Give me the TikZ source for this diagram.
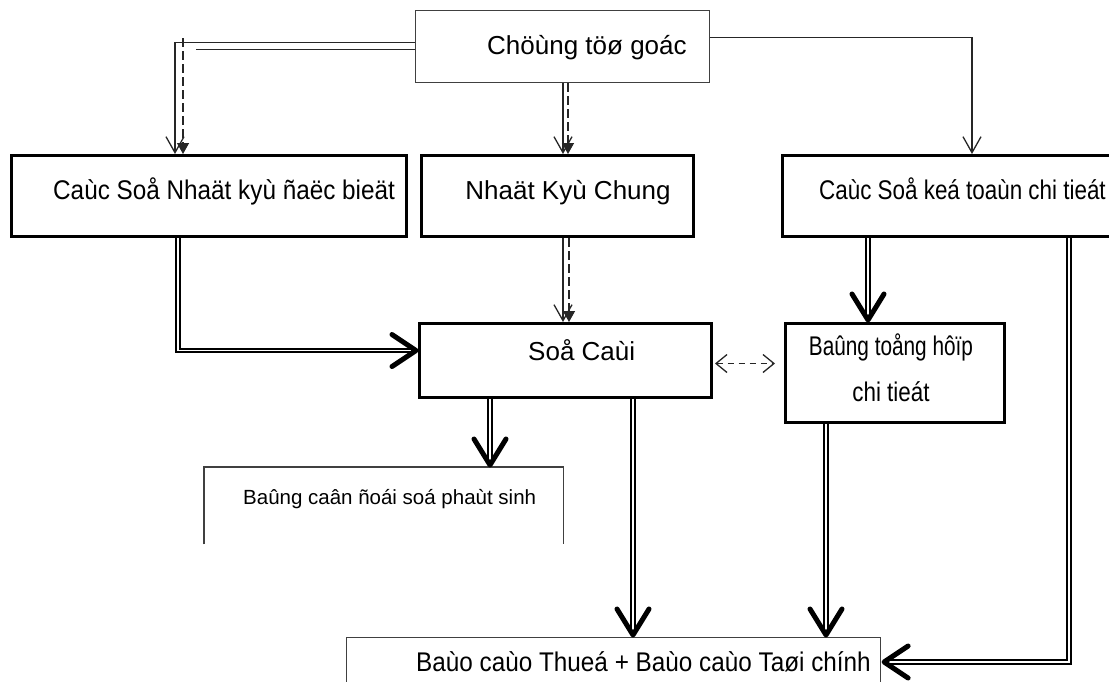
\documentclass[tikz,border=0pt]{standalone}
\usepackage{fontspec}
\setmainfont{Liberation Sans}
\newfontfamily\narrowf{Liberation Sans}[FakeStretch=0.83]
\newfontfamily\narrowg{Liberation Sans}[FakeStretch=0.9]
\newfontfamily\narrowh{Liberation Sans}[FakeStretch=0.77]
\usetikzlibrary{arrows.meta}
\begin{document}
\begin{tikzpicture}[x=1pt,y=-1pt,
  thinbox/.style={draw=black!75, line width=1.1pt, inner sep=0pt, anchor=north west},
  thickbox/.style={draw=black, line width=3pt, inner sep=0pt, anchor=north west},
  lbl/.style={inner sep=0pt, anchor=base west, font=\fontsize{26}{30}\selectfont},
  nlbl/.style={inner sep=0pt, anchor=base west, font=\narrowf\fontsize{27}{30}\selectfont},
  glbl/.style={inner sep=0pt, anchor=base west, font=\narrowg\fontsize{27}{30}\selectfont},
  thinline/.style={draw=black!85, line width=1.3pt},
  vtip/.style={-{Straight Barb[length=16pt,width=18pt,line width=1.3pt]}},
  ftip/.style={-{Triangle[length=11pt,width=12pt]}},
  dashln/.style={line width=1.3pt, dash pattern=on 9pt off 4pt},
  dbl/.style={draw=black, line width=1.8pt, double=white, double distance=1.8pt},
  chevron/.style={draw=black, line width=5pt, line cap=round, line join=round}
]
\path[use as bounding box] (0,0) rectangle (1109,681);
\clip (0,0) rectangle (1109,681);

% boxes
\node[thinbox, minimum width=294pt, minimum height=72pt] (top) at (415,10) {};
\node[thickbox, minimum width=395pt, minimum height=81pt] (b2) at (10,154) {};
\node[thickbox, minimum width=272pt, minimum height=81pt] (b3) at (420,154) {};
\node[thickbox, minimum width=400pt, minimum height=81pt] (b4) at (781,154) {};
\node[thickbox, minimum width=292pt, minimum height=74pt] (sc) at (418,322) {};
\node[thickbox, minimum width=219pt, minimum height=99pt] (bt) at (784,322) {};
\node[inner sep=0pt, anchor=north west, minimum width=359pt, minimum height=77pt] (bc) at (204,467) {};
\draw[draw=black!75, line width=1.1pt] (bc.south west) -- (bc.north west) -- (bc.north east) -- (bc.south east);
\node[thinbox, minimum width=534pt, minimum height=80pt] (bb) at (346,637) {};

% labels
\node[lbl] (topT) at (487,54) {Chöùng töø goác};
\node[glbl] (b2T) at (53,199) {Caùc Soå Nhaät kyù ñaëc bieät};
\node[lbl, anchor=base] (b3T) at (568,199) {Nhaät Kyù Chung};
\node[nlbl] (b4T) at (819,199) {Caùc Soå keá toaùn chi tieát};
\node[lbl] (scT) at (528,360) {Soå Caùi};
\node[nlbl, anchor=base, font=\narrowh\fontsize{27}{30}\selectfont] (btT1) at (891,355) {Baûng toång hôïp};
\node[nlbl, anchor=base] (btT2) at (891,401) {chi tieát};
\node[lbl, font=\fontsize{20.5}{24}\selectfont] (bcT) at (243,504) {Baûng caân ñoái soá phaùt sinh};
\node[glbl] (bbT) at (416,671) {Baùo caùo Thueá + Baùo caùo Taøi chính};

% top -> b2
\coordinate (d1) at (183,38);
\draw[thinline, vtip] ([yshift=4pt]top.west) -| ([xshift=165pt]b2.north west);
\draw[thinline] ([yshift=-3pt]top.west) -- ++(-219,0);
\draw[thinline, dashln, ftip] (d1) -- ([xshift=173pt]b2.north west);

% top -> b3
\draw[thinline, vtip] ([xshift=148pt]top.south west) -- ([xshift=143pt]b3.north west);
\draw[thinline, dashln, ftip] ([xshift=153pt]top.south west) -- ([xshift=148pt]b3.north west);

% top -> b4
\draw[thinline, vtip] ([yshift=9pt]top.east) -| ([xshift=191pt]b4.north west);

% b3 -> sc
\draw[thinline, vtip] ([xshift=143pt]b3.south west) -- ([xshift=145pt]sc.north west);
\draw[thinline, dashln, ftip] ([xshift=149pt]b3.south west) -- ([xshift=151pt]sc.north west);

% sc <-> bt
\draw[thinline, dash pattern=on 6pt off 5pt,
  {Straight Barb[length=11pt,width=18pt,line width=1.3pt]}-{Straight Barb[length=11pt,width=18pt,line width=1.3pt]}]
  ([yshift=-3pt,xshift=2pt]sc.east) -- ([yshift=9.5pt,xshift=-9pt]bt.west);

% double connectors with heavy chevrons
\coordinate (e1) at ([yshift=10pt,xshift=-2pt]sc.west);
\draw[dbl] ([xshift=168pt]b2.south west) |- (e1);
\draw[chevron] ([shift={(-24,-16)}]e1) -- (e1) -- ([shift={(-24,16)}]e1);

\coordinate (e2) at ([xshift=84pt,yshift=2pt]bt.north west);
\draw[dbl] ([xshift=87pt]b4.south west) -- (e2);
\draw[chevron] ([shift={(-16,-26)}]e2) -- (e2) -- ([shift={(16,-26)}]e2);

\coordinate (e3) at ([yshift=-25pt,xshift=3pt]bb.north east);
\draw[dbl] ([xshift=288pt]b4.south west) |- (e3);
\draw[chevron] ([shift={(24,-16)}]e3) -- (e3) -- ([shift={(24,16)}]e3);

\coordinate (e4) at ([xshift=286pt,yshift=2pt]bc.north west);
\draw[dbl] ([xshift=72pt]sc.south west) -- (e4);
\draw[chevron] ([shift={(-16,-26)}]e4) -- (e4) -- ([shift={(16,-26)}]e4);

\coordinate (e5) at ([xshift=287pt,yshift=2pt]bb.north west);
\draw[dbl] ([xshift=215pt]sc.south west) -- (e5);
\draw[chevron] ([shift={(-16,-26)}]e5) -- (e5) -- ([shift={(16,-26)}]e5);

\coordinate (e6) at ([xshift=480pt,yshift=2pt]bb.north west);
\draw[dbl] ([xshift=42pt]bt.south west) -- (e6);
\draw[chevron] ([shift={(-16,-26)}]e6) -- (e6) -- ([shift={(16,-26)}]e6);
\end{tikzpicture}
\end{document}
